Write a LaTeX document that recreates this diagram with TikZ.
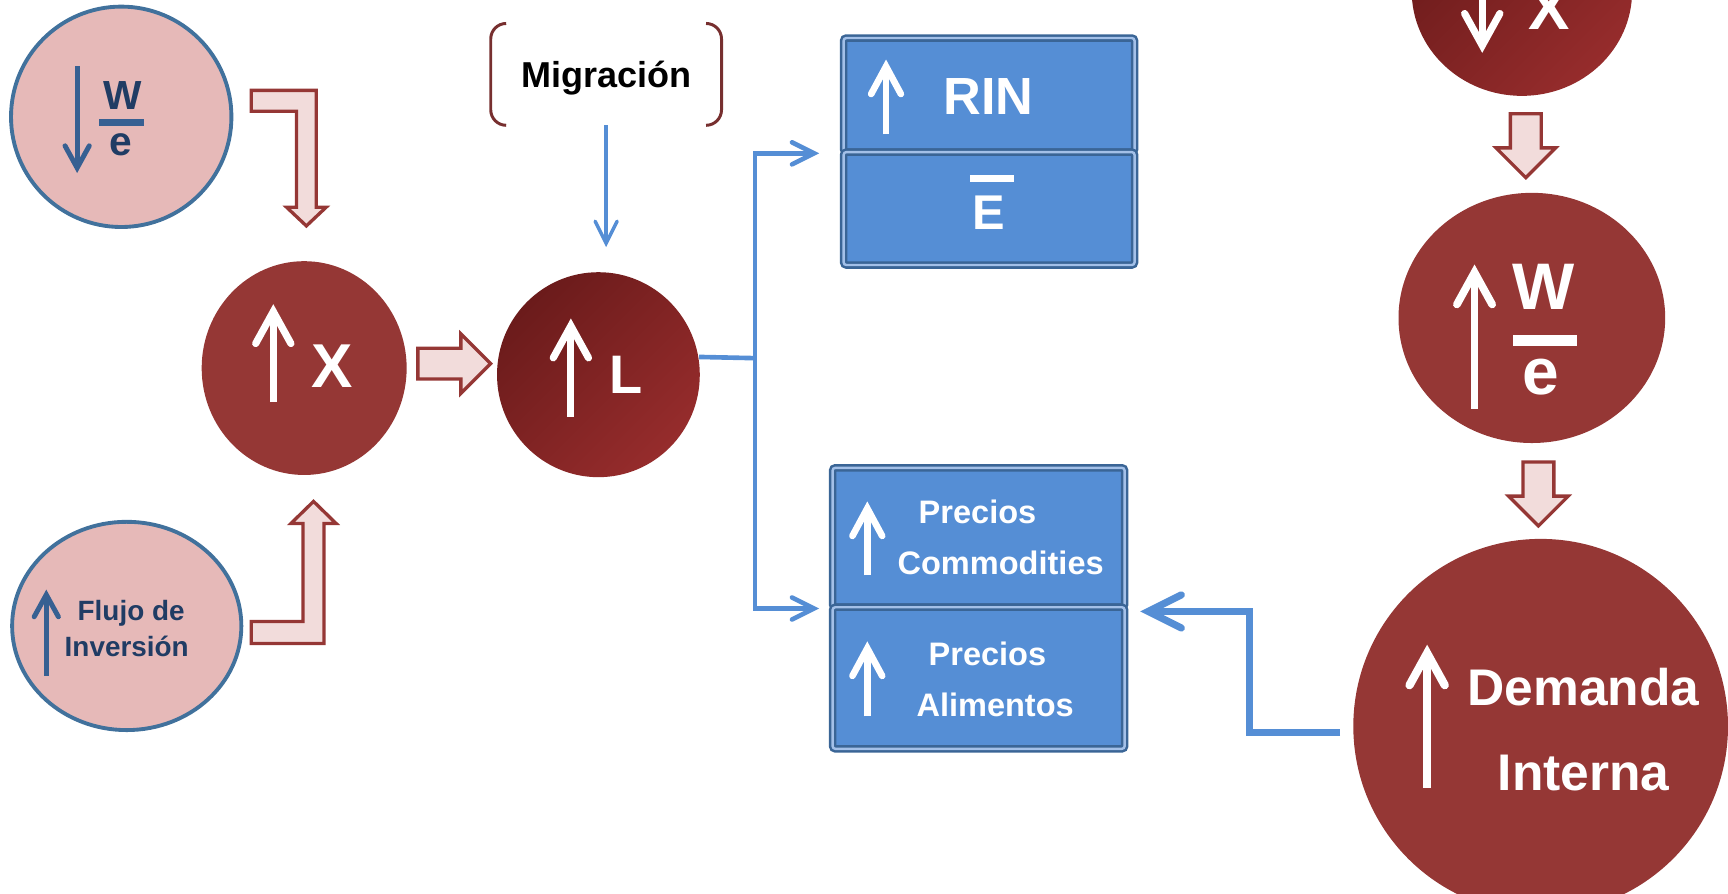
\documentclass[tikz,border=0pt]{standalone}
\usepackage{fontspec}
\setmainfont{Liberation Sans}
\usetikzlibrary{arrows.meta, calc, positioning, shapes.geometric, shapes.arrows}

\definecolor{pinkfill}{HTML}{E6B9B8}
\definecolor{pinkline}{HTML}{41719C}
\definecolor{navytext}{HTML}{203C64}
\definecolor{navyline}{HTML}{376092}
\definecolor{redfill}{HTML}{953735}
\definecolor{reddark}{HTML}{6B1B1B}
\definecolor{redlight}{HTML}{962C2C}
\definecolor{hollowfill}{HTML}{F2DCDB}
\definecolor{boxfill}{HTML}{558ED5}
\definecolor{boxline}{HTML}{3A6596}
\definecolor{boxlight}{HTML}{A3C0E8}
\definecolor{linkblue}{HTML}{558ED5}
\definecolor{bracketred}{HTML}{772F2F}

\newcommand{\bsize}[1]{\fontsize{#1}{#1}\selectfont\bfseries}

\tikzset{
    pinkball/.style={ellipse, draw=pinkline, line width=0.35mm, fill=pinkfill, inner sep=0pt},
    redball/.style={ellipse, fill=redfill, inner sep=0pt},
    shadeball/.style={ellipse, top color=reddark, bottom color=redlight, shading angle=45, inner sep=0pt},
    cellbox/.style={rectangle, draw=boxline, double=boxlight, double distance=0.22mm, line width=0.23mm,
        fill=boxfill, rounded corners=0.25mm, inner sep=0pt},
    hollow/.style={draw=redfill, line width=0.3mm, fill=hollowfill, line join=miter},
    hollowarrow/.style={single arrow, hollow, inner sep=1.25mm, single arrow head extend=1.3mm,
        single arrow tip angle=90, minimum height=5.8mm},
    lbl/.style={inner sep=0pt, anchor=base, text=white},
    whitearrow/.style={white, line width=#1, -{Straight Barb[length=2.9mm, width=3.2mm, line cap=round]}},
    whitearrow/.default=0.65mm,
    boxarrow/.style={white, line width=0.6mm, -{Straight Barb[length=2.5mm, width=2.7mm, line cap=round]}},
    navyarrow/.style={navyline, line width=0.45mm, -{Straight Barb[length=2mm, width=2.2mm, line cap=round]}},
    link/.style={linkblue, line width=0.42mm},
    linktip/.style={-{Straight Barb[length=2mm, width=2mm, line cap=round]}},
    linkthick/.style={linkblue, line width=0.65mm, -{Straight Barb[length=3mm, width=3mm, line cap=round]}},
    bracket/.style={bracketred, line width=0.27mm}
}

\begin{document}
\begin{tikzpicture}[x=0.1mm, y=-0.1mm]
    \useasboundingbox (0,0) rectangle (1568,811);
    \clip (0,0) rectangle (1568,811);
    % circles
    \node[pinkball, minimum width=20mm, minimum height=20mm] (wedown) at (110,106) {};
    \node[pinkball, minimum width=20.8mm, minimum height=18.9mm] (flujo) at (115,568) {};
    \node[redball, minimum width=18.6mm, minimum height=19.4mm] (xup) at (276,334) {};
    \node[shadeball, minimum width=18.4mm, minimum height=18.6mm] (lup) at (543,340) {};
    \node[shadeball, minimum width=20mm, minimum height=19mm] (xdown) at (1381,-8) {};
    \node[redball, minimum width=24.2mm, minimum height=22.7mm] (weup) at (1390,288.5) {};
    \node[redball, minimum width=34mm, minimum height=34mm] (demanda) at (1398,659) {};
    % boxes
    \node[cellbox, minimum width=26.4mm, minimum height=10.35mm] (rinup) at (897.5,86.25) {};
    \node[cellbox, minimum width=26.4mm, minimum height=10.25mm] (rindown) at (897.5,189.25) {};
    \node[cellbox, minimum width=26.5mm, minimum height=12.65mm] (comup) at (888,487.75) {};
    \node[cellbox, minimum width=26.5mm, minimum height=12.85mm] (alidown) at (888,615.25) {};
    % Migracion
    \node[minimum width=20.8mm, minimum height=9.1mm, inner sep=0pt] (migbox) at (550,67.5) {};
    \node[lbl, text=black, font=\bsize{9.3pt}] (mig) at (550,79) {Migración};
    \draw[bracket] ($(migbox.north west)+(14,0)$) arc[start angle=90, end angle=180, radius=1.4mm]
        -- ($(migbox.south west)+(0,-14)$) arc[start angle=180, end angle=270, radius=1.4mm];
    \draw[bracket] ($(migbox.north east)+(-14,0)$) arc[start angle=90, end angle=0, radius=1.4mm]
        -- ($(migbox.south east)+(0,-14)$) arc[start angle=0, end angle=-90, radius=1.4mm];
    % blue connectors
    \coordinate (jn) at (685,325);
    \draw[link] (lup.10) -- (jn);
    \draw[link, linktip, shorten >=2.1mm] (jn) |- (rinup.south west);
    \draw[link, linktip, shorten >=1.1mm] (jn) |- (comup.south west);
    \draw[link, line width=0.32mm, linktip] (migbox.south) -- ($(migbox.south |- lup.north)+(0,-22)$);
    \coordinate (dmd) at (1216,665);
    \draw[linkthick, shorten >=1.3mm] (dmd) -- ++(-82,0) |- ($(alidown.north east)+(0,5)$);
    % hollow arrows
    \draw[hollow] (228,82) -- (287,82) -- (287,188) -- (296,188) -- (278,205) -- (260,188)
        -- (269,188) -- (269,101) -- (228,101) -- cycle;
    \draw[hollow] (228,584) -- (294,584) -- (294,475) -- (305,475) -- (284.5,455) -- (264,475)
        -- (275,475) -- (275,564) -- (228,564) -- cycle;
    \node[hollowarrow, minimum height=6.6mm, right=0.8mm of xup, yshift=0.4mm] (xtol) {};
    \node[hollowarrow, shape border rotate=270, below=1.4mm of xdown, xshift=0.35mm] (xtowe) {};
    \node[hollowarrow, shape border rotate=270, below=1.5mm of weup, xshift=0.6mm] (wetodem) {};
    % pink W/e
    \draw[navyarrow] (70,60) -- (70,157);
    \node[lbl, text=navytext, font=\bsize{10.5pt}] (wsmall) at (111,99) {W};
    \draw[navyline, line width=0.6mm] (90,111) -- (131,111);
    \node[lbl, text=navytext, font=\bsize{10.5pt}] (esmall) at (110,141) {e};
    % flujo de inversion
    \draw[navyarrow] (42,613) -- (42,535);
    \node[lbl, text=navytext, font=\bsize{7.2pt}] (flujo1) at (119,563) {Flujo de};
    \node[lbl, text=navytext, font=\bsize{7.2pt}] (flujo2) at (115,596) {Inversión};
    % X and L
    \draw[whitearrow] (248,365) -- (248,276);
    \node[lbl, font=\bsize{16pt}] (xtxt) at (301,352) {X};
    \draw[whitearrow] (518,378) -- (518,289);
    \node[lbl, font=\bsize{14pt}] (ltxt) at (568,357) {L};
    % top right
    \draw[whitearrow] (1345,-40) -- (1345,48);
    \node[lbl, font=\bsize{16pt}] (xtxt2) at (1406,27) {X};
    \draw[whitearrow=0.7mm] (1338,371) -- (1338,240);
    \node[lbl, font=\bsize{17pt}] (wbig) at (1401,281) {W};
    \draw[white, line width=1mm] (1373,309) -- (1431,309);
    \node[lbl, font=\bsize{17pt}] (ebig) at (1398,358) {e};
    \draw[whitearrow=0.75mm] (1295,715) -- (1295,585);
    \node[lbl, font=\bsize{13.3pt}] (dem1) at (1437,640) {Demanda};
    \node[lbl, font=\bsize{13.3pt}] (dem2) at (1437,717) {Interna};
    % box texts
    \draw[boxarrow] (804,122) -- (804,54);
    \node[lbl, font=\bsize{13.5pt}] (rintxt) at (897,104) {RIN};
    \node[lbl, font=\bsize{12.6pt}] (etxt) at (897,208)
        {\makebox[0pt][l]{\hspace{-0.6pt}\raisebox{12.2pt}{\rule{11.4pt}{1.7pt}}}E};
    \draw[boxarrow] (787,522) -- (787,455);
    \node[lbl, font=\bsize{8.4pt}] (com1) at (887,475) {Precios};
    \node[lbl, font=\bsize{8.4pt}] (com2) at (908,521) {Commodities};
    \draw[boxarrow] (787,650) -- (787,582);
    \node[lbl, font=\bsize{8.4pt}] (ali1) at (896,604) {Precios};
    \node[lbl, font=\bsize{8.4pt}] (ali2) at (903,650) {Alimentos};
\end{tikzpicture}
\end{document}
